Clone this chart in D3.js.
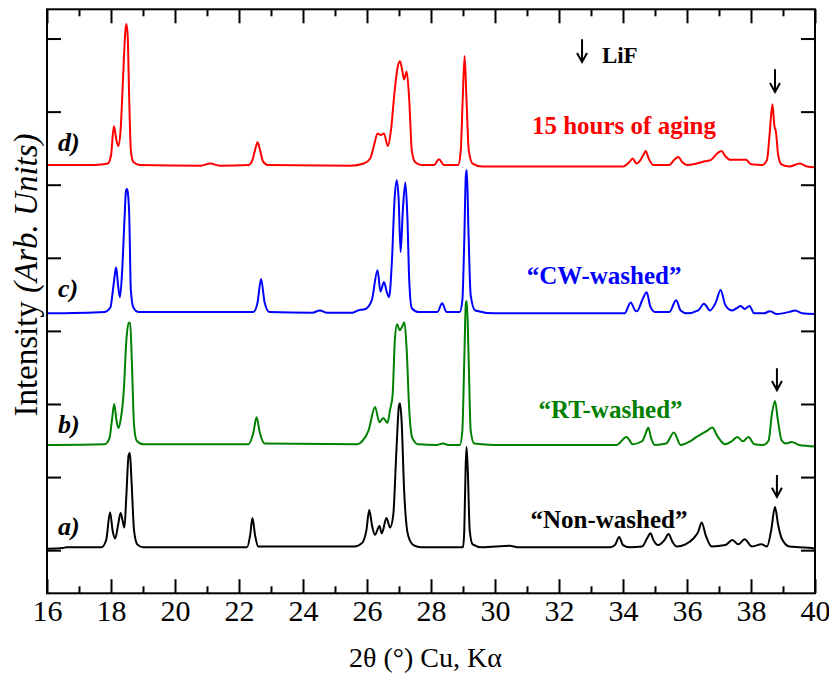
<!DOCTYPE html>
<html><head><meta charset="utf-8">
<script src="https://cdn.jsdelivr.net/npm/d3@7"></script>
<style>body{margin:0;background:#fff}</style>
</head><body>
<svg id="chart" width="829" height="675"></svg>
<script>
// ---- DATA (2θ in degrees, intensity in arbitrary units, curves offset as in the figure) ----
const sampleLetters = ["a)", "b)", "c)", "d)"];
const sampleNames = ["\u201CNon-washed\u201D", "\u201CRT-washed\u201D", "\u201CCW-washed\u201D", "15 hours of aging"];
const xMajorTicks = [16,18,20,22,24,26,28,30,32,34,36,38,40];
const xMinorTicks = [17,19,21,23,25,27,29,31,33,35,37,39];
const xTickLabels = ["16","18","20","22","24","26","28","30","32","34","36","38","40"];
const yTicks = [0,1,2,3,4,5,6,7];
const lifLabel = "LiF";

const nonWashed = [[16.0,0.02],[16.5,0.03],[16.6,0.04],[17.70,0.04],[17.85,0.14],[17.97,0.52],[18.05,0.27],[18.13,0.16],[18.22,0.34],[18.30,0.51],[18.36,0.41],[18.42,0.31],[18.48,0.75],[18.55,1.30],[18.59,1.33],[18.64,0.96],[18.72,0.27],[18.82,0.08],[19.00,0.04],[22.25,0.04],[22.35,0.21],[22.42,0.44],[22.50,0.21],[22.60,0.05],[25.60,0.05],[25.85,0.10],[25.98,0.27],[26.07,0.55],[26.16,0.33],[26.25,0.21],[26.39,0.33],[26.46,0.23],[26.61,0.44],[26.72,0.31],[26.82,0.48],[26.92,1.37],[27.00,1.98],[27.03,2.01],[27.08,1.78],[27.16,0.82],[27.28,0.21],[27.45,0.07],[27.70,0.04],[29.00,0.04],[29.04,0.27],[29.08,1.09],[29.11,1.41],[29.15,1.09],[29.21,0.27],[29.30,0.08],[29.60,0.04],[30.47,0.06],[30.70,0.04],[33.60,0.04],[33.75,0.07],[33.88,0.18],[34.00,0.07],[34.20,0.04],[34.60,0.05],[34.75,0.16],[34.86,0.23],[34.95,0.14],[35.10,0.07],[35.30,0.14],[35.42,0.22],[35.55,0.11],[35.68,0.05],[35.95,0.08],[36.20,0.16],[36.35,0.25],[36.46,0.38],[36.58,0.21],[36.77,0.05],[37.20,0.07],[37.42,0.14],[37.60,0.08],[37.80,0.15],[38.03,0.05],[38.33,0.08],[38.50,0.05],[38.63,0.27],[38.75,0.59],[38.85,0.34],[38.96,0.16],[39.20,0.05],[39.50,0.04],[39.90,0.03],[40.00,0.02]];

const rtWashed = [[16.0,1.44],[17.8,1.45],[17.95,1.53],[18.03,1.78],[18.10,2.00],[18.17,1.78],[18.23,1.67],[18.30,1.78],[18.40,2.19],[18.48,2.87],[18.55,3.11],[18.60,3.11],[18.65,2.60],[18.72,1.71],[18.80,1.50],[19.00,1.45],[22.30,1.45],[22.45,1.61],[22.55,1.82],[22.65,1.61],[22.80,1.46],[25.70,1.45],[25.85,1.49],[26.05,1.64],[26.25,1.96],[26.39,1.75],[26.51,1.81],[26.64,1.74],[26.72,1.92],[26.80,2.12],[26.87,2.87],[26.94,3.09],[27.02,3.01],[27.10,3.06],[27.17,3.12],[27.24,2.74],[27.32,1.92],[27.42,1.53],[27.60,1.45],[28.20,1.44],[28.37,1.46],[28.55,1.44],[28.90,1.44],[28.98,1.64],[29.04,2.60],[29.09,3.38],[29.12,3.41],[29.17,2.74],[29.24,1.64],[29.35,1.46],[30.00,1.44],[33.80,1.44],[34.11,1.55],[34.30,1.45],[34.60,1.49],[34.72,1.61],[34.79,1.68],[34.88,1.53],[35.00,1.44],[35.35,1.46],[35.59,1.61],[35.80,1.44],[36.10,1.49],[36.30,1.55],[36.46,1.59],[36.65,1.64],[36.79,1.68],[36.95,1.56],[37.19,1.45],[37.40,1.49],[37.57,1.55],[37.75,1.49],[37.92,1.55],[38.10,1.45],[38.38,1.44],[38.55,1.50],[38.65,1.85],[38.75,2.04],[38.84,1.78],[38.96,1.50],[39.10,1.46],[39.27,1.48],[39.50,1.44],[40.00,1.42]];

const cwWashed = [[16.0,3.24],[17.8,3.26],[17.98,3.32],[18.08,3.63],[18.16,3.87],[18.22,3.63],[18.28,3.46],[18.35,3.83],[18.42,4.51],[18.47,4.92],[18.50,4.94],[18.53,4.88],[18.57,4.58],[18.62,3.56],[18.70,3.32],[18.85,3.26],[22.45,3.26],[22.58,3.39],[22.69,3.71],[22.80,3.39],[22.95,3.26],[24.30,3.25],[24.53,3.28],[24.75,3.25],[25.55,3.25],[25.72,3.28],[25.95,3.30],[26.15,3.42],[26.33,3.83],[26.42,3.54],[26.53,3.67],[26.62,3.53],[26.69,3.46],[26.78,3.97],[26.86,4.79],[26.93,5.06],[26.99,4.79],[27.05,4.08],[27.12,4.65],[27.20,5.03],[27.26,4.58],[27.32,3.69],[27.40,3.31],[27.60,3.26],[28.20,3.26],[28.35,3.38],[28.48,3.26],[28.90,3.26],[28.98,3.42],[29.04,4.24],[29.09,5.13],[29.12,5.20],[29.17,4.38],[29.24,3.49],[29.38,3.28],[30.00,3.24],[34.05,3.24],[34.24,3.39],[34.38,3.28],[34.44,3.27],[34.60,3.42],[34.74,3.53],[34.85,3.34],[35.00,3.26],[35.45,3.26],[35.66,3.42],[35.80,3.28],[36.00,3.24],[36.35,3.28],[36.53,3.37],[36.72,3.28],[36.90,3.39],[37.05,3.56],[37.20,3.35],[37.40,3.28],[37.55,3.31],[37.68,3.34],[37.80,3.30],[37.95,3.34],[38.10,3.24],[38.40,3.24],[38.60,3.27],[38.80,3.23],[39.20,3.26],[39.38,3.28],[39.60,3.24],[40.00,3.23]];

const aged15h = [[16.0,5.27],[17.5,5.27],[17.9,5.29],[18.0,5.40],[18.09,5.80],[18.17,5.61],[18.23,5.53],[18.30,5.75],[18.38,6.50],[18.45,7.11],[18.48,7.20],[18.52,7.05],[18.57,6.16],[18.62,5.47],[18.70,5.31],[18.90,5.27],[20.80,5.26],[21.10,5.29],[21.40,5.26],[22.30,5.27],[22.42,5.34],[22.50,5.47],[22.58,5.58],[22.66,5.47],[22.75,5.32],[22.90,5.27],[25.50,5.26],[25.90,5.29],[26.10,5.36],[26.22,5.54],[26.33,5.70],[26.43,5.68],[26.53,5.70],[26.65,5.53],[26.75,5.75],[26.85,6.22],[26.95,6.59],[27.03,6.69],[27.10,6.57],[27.16,6.44],[27.24,6.55],[27.32,6.16],[27.40,5.47],[27.50,5.31],[27.70,5.27],[28.10,5.27],[28.25,5.35],[28.40,5.27],[28.85,5.27],[28.93,5.47],[28.99,6.16],[29.05,6.76],[29.11,6.16],[29.18,5.47],[29.30,5.29],[29.60,5.25],[34.00,5.25],[34.20,5.31],[34.30,5.36],[34.42,5.29],[34.50,5.31],[34.63,5.40],[34.71,5.46],[34.80,5.36],[34.95,5.27],[35.45,5.27],[35.60,5.34],[35.73,5.38],[35.85,5.31],[36.00,5.27],[36.30,5.29],[36.56,5.32],[36.75,5.34],[36.95,5.43],[37.08,5.46],[37.20,5.39],[37.35,5.34],[37.60,5.34],[37.85,5.34],[38.00,5.28],[38.35,5.27],[38.50,5.34],[38.58,5.68],[38.67,6.10],[38.73,5.81],[38.78,5.72],[38.85,5.40],[38.95,5.28],[39.20,5.25],[39.53,5.29],[39.75,5.25],[40.00,5.24]];

const seriesData = [nonWashed, rtWashed, cwWashed, aged15h];
const seriesColors = ["#000000", "#008000", "#0000FF", "#FF0000"];

// ---- LAYOUT ----
const svg = d3.select("#chart");
const L = 47, R = 815, T = 9.3, B = 593.3;
const x = d3.scaleLinear().domain([16, 40]).range([L, R]);
const y = d3.scaleLinear().domain([-0.59, 7.4]).range([B, T]);
const serif = "'Liberation Serif', 'Times New Roman', serif";

// curves
const line = d3.line().x(d => x(d[0])).y(d => y(d[1])).curve(d3.curveMonotoneX);
svg.append("g").selectAll("path").data(seriesData).join("path")
  .attr("d", line).attr("fill", "none")
  .attr("stroke", (d, i) => seriesColors[i]).attr("stroke-width", 2)
  .attr("stroke-linejoin", "round");

// axes
const allX = xMajorTicks.concat(xMinorTicks);
const fmt = d => { const k = xMajorTicks.indexOf(d); return k >= 0 ? xTickLabels[k] : ""; };
function styleAxis(g) {
  g.select(".domain").remove();
  g.selectAll(".tick line").attr("stroke", "#000").attr("stroke-width", 2);
}
const gb = svg.append("g").attr("transform", `translate(0,${B})`)
  .call(d3.axisBottom(x).tickValues(allX).tickSize(-14).tickPadding(6).tickFormat(fmt))
  .call(styleAxis);
gb.selectAll(".tick").filter(d => xMinorTicks.includes(d)).select("line").attr("y2", -7);
gb.selectAll(".tick text").attr("font-family", serif).attr("font-size", 30).attr("fill", "#000");

const gt = svg.append("g").attr("transform", `translate(0,${T})`)
  .call(d3.axisTop(x).tickValues(allX).tickSize(-14).tickFormat(""))
  .call(styleAxis);
gt.selectAll(".tick").filter(d => xMinorTicks.includes(d)).select("line").attr("y2", 7);

svg.append("g").attr("transform", `translate(${L},0)`)
  .call(d3.axisLeft(y).tickValues(yTicks).tickSize(-14).tickFormat("")).call(styleAxis);
svg.append("g").attr("transform", `translate(${R},0)`)
  .call(d3.axisRight(y).tickValues(yTicks).tickSize(-14).tickFormat("")).call(styleAxis);

svg.append("rect").attr("x", L).attr("y", T).attr("width", R - L).attr("height", B - T)
  .attr("fill", "none").attr("stroke", "#000").attr("stroke-width", 2);

// axis titles
svg.append("text").attr("x", 425.5).attr("y", 667).attr("text-anchor", "middle")
  .attr("font-family", serif).attr("font-size", 28).attr("fill", "#000")
  .text("2\u03B8 (\u00B0) Cu, K\u03B1");
const yt = svg.append("text").attr("transform", "translate(37,275) rotate(-90)")
  .attr("text-anchor", "middle").attr("font-family", serif).attr("font-size", 33).attr("fill", "#000");
yt.append("tspan").text("Intensity ");
yt.append("tspan").attr("font-style", "italic").text("(Arb. Units)");

// sample letters a) b) c) d)
const letterAnchor = [[16.34, 0.21], [16.34, 1.60], [16.34, 3.47], [16.34, 5.46]];
svg.append("g").selectAll("text").data(sampleLetters).join("text")
  .attr("x", (d, i) => x(letterAnchor[i][0])).attr("y", (d, i) => y(letterAnchor[i][1]))
  .attr("font-family", serif).attr("font-size", 26).attr("font-weight", "bold")
  .attr("font-style", "italic").attr("fill", "#000").text(d => d);

// sample names
const nameAnchor = [[33.56, 0.31], [33.61, 1.81], [33.41, 3.64], [34.03, 5.70]];
svg.append("g").selectAll("text").data(sampleNames).join("text")
  .attr("x", (d, i) => x(nameAnchor[i][0])).attr("y", (d, i) => y(nameAnchor[i][1]))
  .attr("text-anchor", "middle").attr("font-family", serif).attr("font-size", 25)
  .attr("font-weight", "bold").attr("fill", (d, i) => seriesColors[i]).text(d => d);

// LiF arrows
const arrows = [[32.72, 6.99, 6.68], [38.75, 6.58, 6.27], [38.81, 2.49, 2.19], [38.81, 1.03, 0.73]];
svg.append("g").selectAll("path").data(arrows).join("path")
  .attr("d", d => {
    const ax = x(d[0]), y1 = y(d[1]), y2 = y(d[2]);
    return `M${ax},${y1}V${y2}M${ax - 5},${y2 - 9}L${ax},${y2}L${ax + 5},${y2 - 9}`;
  })
  .attr("fill", "none").attr("stroke", "#000").attr("stroke-width", 2);
svg.append("text").attr("x", x(33.34)).attr("y", y(6.66))
  .attr("font-family", serif).attr("font-size", 23).attr("font-weight", "bold")
  .attr("fill", "#000").text(lifLabel);
</script>
</body></html>
